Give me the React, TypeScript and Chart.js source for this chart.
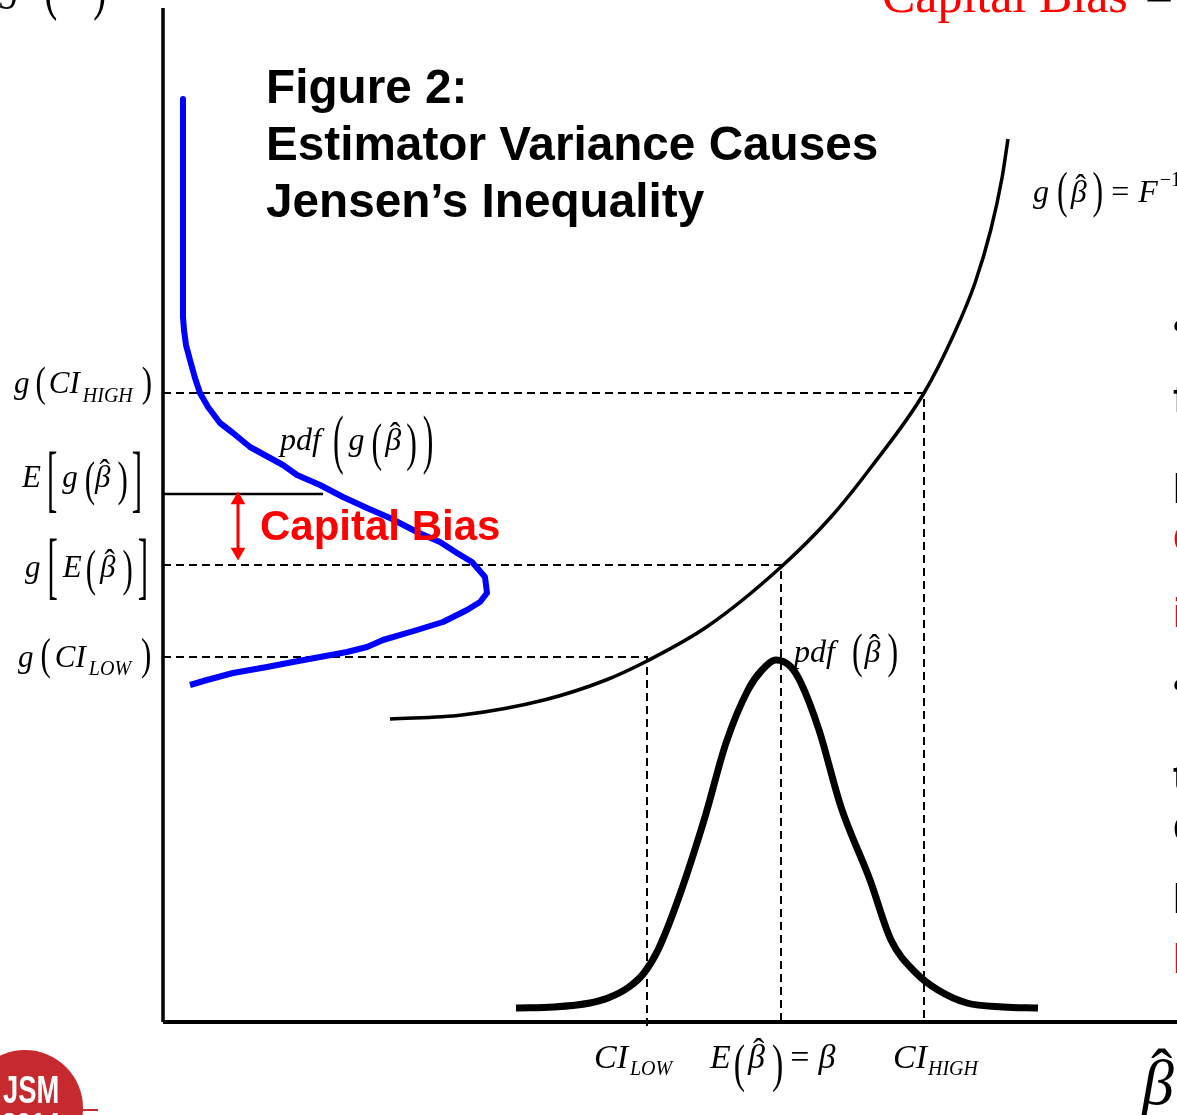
import React, { useEffect, useRef } from 'react';
import { Chart, registerables } from 'chart.js';

Chart.register(...registerables);

// ---- Data (arbitrary units: x = β̂ axis, y = g axis) ----
const X_MAX = 10.14;
const Y_MAX = 10.14;

const CI_LOW = 4.84;
const E_BETA = 6.18;
const CI_HIGH = 7.61;

const G_CI_LOW = 3.65;
const G_E_BETA = 4.57;
const E_G_BETA = 5.28;
const G_CI_HIGH = 6.29;

const E_G_LINE_END = 1.6;
const ARROW_X = 0.75;
const ARROW_TOP = 5.22;
const ARROW_BOTTOM = 4.7;

// g(β̂) convex transform curve
const gCurveX = [2.27, 2.99, 3.81, 4.43, 4.84, 5.45, 6.18, 6.68, 7.09, 7.61, 7.91, 8.12, 8.28, 8.39, 8.45];
const gCurveY = [3.03, 3.07, 3.22, 3.42, 3.61, 3.96, 4.55, 5.05, 5.56, 6.29, 6.88, 7.39, 7.93, 8.44, 8.83];

// pdf(β̂) bell curve
const pdfBetaX = [3.53, 3.91, 4.27, 4.45, 4.66, 4.81, 4.95, 5.16, 5.42, 5.63, 5.85, 5.99, 6.13, 6.28, 6.38, 6.56, 6.78, 7.07, 7.28, 7.53, 7.75, 8.04, 8.4, 8.75];
const pdfBetaY = [0.14, 0.15, 0.19, 0.24, 0.35, 0.49, 0.72, 1.25, 2.05, 2.79, 3.32, 3.52, 3.62, 3.55, 3.39, 2.92, 2.15, 1.42, 0.82, 0.49, 0.32, 0.19, 0.15, 0.14];

// pdf(g(β̂)) drawn sideways along the g axis: density (x) vs g value (y)
const pdfGDensity = [0.2, 0.2, 0.21, 0.23, 0.27, 0.32, 0.37, 0.45, 0.57, 0.7, 0.87, 1.2, 1.34, 1.57, 1.8, 2.04, 2.27, 2.54, 2.77, 2.94, 3.09, 3.22, 3.24, 3.17, 3.04, 2.8, 2.54, 2.2, 2.04, 1.84, 1.57, 1.3, 1.04, 0.7, 0.44, 0.27];
const pdfGValue = [9.23, 7.05, 6.92, 6.77, 6.62, 6.44, 6.29, 6.15, 5.99, 5.89, 5.75, 5.57, 5.47, 5.37, 5.25, 5.14, 5.04, 4.9, 4.8, 4.69, 4.6, 4.45, 4.29, 4.2, 4.12, 4.0, 3.92, 3.82, 3.75, 3.7, 3.65, 3.6, 3.55, 3.49, 3.42, 3.37];

const TITLE_LINES = ['Figure 2:', 'Estimator Variance Causes', 'Jensen\u2019s Inequality'];
const BIAS_LABEL = 'Capital Bias';
const SIDE_FRAGMENTS = [
  { t: '\u2022', c: '#000' },
  { t: 'f', c: '#000' },
  { t: 'l', c: '#000' },
  { t: 'C', c: '#ff0000' },
  { t: 'i', c: '#ff0000' },
  { t: '\u2022', c: '#000' },
  { t: 't', c: '#000' },
  { t: 'C', c: '#000' },
  { t: 'l', c: '#000' },
  { t: 'l', c: '#ff0000' },
];
const SIDE_BASELINES = [340, 412, 503, 553, 627, 699, 790, 843, 913, 973];

const SERIF = '"Liberation Serif", "Times New Roman", serif';
const SANS = '"Liberation Sans", Arial, sans-serif';

type Piece = { s: string; z: number; up?: boolean; dy?: number; gap?: number; h?: number; cy?: number; hat?: boolean };
const P = (s: string, z: number, o: Partial<Piece> = {}): Piece => ({ s, z, ...o });

function drawMath(ctx: CanvasRenderingContext2D, x: number, y: number, pieces: Piece[]) {
  let cx = x;
  ctx.textAlign = 'left';
  for (const p of pieces) {
    cx += p.gap ?? 0;
    ctx.font = `${p.up ? '' : 'italic '}${p.z}px ${SERIF}`;
    const m = ctx.measureText(p.s);
    if (p.h) {
      const asc = m.actualBoundingBoxAscent;
      const desc = m.actualBoundingBoxDescent;
      const k = p.h / (asc + desc);
      ctx.save();
      ctx.translate(cx, y + (p.cy ?? 0));
      ctx.scale(1, k);
      ctx.fillText(p.s, 0, (asc - desc) / 2);
      ctx.restore();
    } else {
      ctx.fillText(p.s, cx, y + (p.dy ?? 0));
      if (p.hat) {
        const top = y + (p.dy ?? 0) - m.actualBoundingBoxAscent;
        ctx.save();
        ctx.font = `${Math.round(p.z * 1.0)}px ${SERIF}`;
        const hm = ctx.measureText('\u02C6');
        ctx.textAlign = 'center';
        ctx.fillText('\u02C6', cx + m.width * 0.62, top - 1 - hm.actualBoundingBoxDescent);
        ctx.restore();
      }
    }
    cx += m.width;
  }
}

const annotations = {
  id: 'annotations',
  afterDatasetsDraw(chart: any) {
    const ctx: CanvasRenderingContext2D = chart.ctx;
    const X = (v: number) => chart.scales.x.getPixelForValue(v);
    const Y = (v: number) => chart.scales.y.getPixelForValue(v);
    ctx.save();
    ctx.textBaseline = 'alphabetic';
    ctx.fillStyle = '#000';

    // Title
    ctx.font = `bold 47.7px ${SANS}`;
    TITLE_LINES.forEach((t, i) => ctx.fillText(t, 266, 103 + i * 57));

    // Capital Bias (red, near arrow)
    ctx.fillStyle = '#ff0000';
    ctx.font = `bold 42px ${SANS}`;
    ctx.fillText(BIAS_LABEL, X(ARROW_X) + 22, Y(E_G_BETA) + 46);

    // Top-right clipped heading
    ctx.font = `50px ${SERIF}`;
    ctx.fillText(BIAS_LABEL, 882, 12);
    ctx.fillStyle = '#000';
    ctx.fillText('=', 1145, 12);

    // Right-edge clipped slide text
    ctx.font = `bold 40px ${SANS}`;
    SIDE_FRAGMENTS.forEach((f, i) => {
      ctx.fillStyle = f.c;
      ctx.fillText(f.t, 1173, SIDE_BASELINES[i]);
    });
    ctx.fillStyle = '#000';

    const bh = (z: number) => P('\u03B2', z, { hat: true });

    // Top-left clipped axis label g(β̂)
    drawMath(ctx, 0, 0, [P('g', 40), P('(', 40, { up: true, h: 60, cy: -8, gap: 24 }), P('\u03B2', 36, { dy: -12, gap: 4 }), P(')', 40, { up: true, h: 60, cy: -8, gap: 14 })]);

    // Left g-axis labels
    drawMath(ctx, 14, Y(G_CI_HIGH), [
      P('g', 31), P('(', 31, { up: true, h: 40, cy: -8, gap: 6 }), P('CI', 31, { gap: 3 }),
      P('HIGH', 20, { dy: 9, gap: 3 }), P(')', 31, { up: true, h: 40, cy: -8, gap: 9 }),
    ]);
    drawMath(ctx, 22, Y(E_G_BETA) - 7, [
      P('E', 31), P('[', 31, { up: true, h: 64, cy: -7, gap: 6 }), P('g', 31, { gap: 5 }),
      P('(', 31, { up: true, h: 48, cy: -5, gap: 7 }), bh(31), P(')', 31, { up: true, h: 48, cy: -5, gap: 7 }),
      P(']', 31, { up: true, h: 64, cy: -7, gap: 4 }),
    ]);
    drawMath(ctx, 25, Y(G_E_BETA) + 12, [
      P('g', 31), P('[', 31, { up: true, h: 65, cy: -10, gap: 7 }), P('E', 31, { gap: 5 }),
      P('(', 31, { up: true, h: 50, cy: -5, gap: 4 }), { ...bh(31), gap: 4 }, P(')', 31, { up: true, h: 50, cy: -5, gap: 7 }),
      P(']', 31, { up: true, h: 65, cy: -10, gap: 5 }),
    ]);
    drawMath(ctx, 18, Y(G_CI_LOW) + 10, [
      P('g', 31), P('(', 31, { up: true, h: 43, cy: -9, gap: 7 }), P('CI', 31, { gap: 4 }),
      P('LOW', 20, { dy: 8, gap: 3 }), P(')', 31, { up: true, h: 43, cy: -9, gap: 10 }),
    ]);

    // pdf(g(β̂)) label
    drawMath(ctx, 280, 450, [
      P('pdf', 32), P('(', 32, { up: true, h: 62, cy: -6, gap: 12 }), P('g', 32, { gap: 5 }),
      P('(', 32, { up: true, h: 49, cy: -3, gap: 7 }), { ...bh(32), gap: 3 }, P(')', 32, { up: true, h: 49, cy: -3, gap: 5 }),
      P(')', 32, { up: true, h: 62, cy: -6, gap: 6 }),
    ]);

    // pdf(β̂) label
    drawMath(ctx, 794, 662, [
      P('pdf', 32), P('(', 32, { up: true, h: 46, cy: -7, gap: 17 }), { ...bh(32), gap: 2 },
      P(')', 32, { up: true, h: 46, cy: -7, gap: 7 }),
    ]);

    // g(β̂) = F^-1 label
    drawMath(ctx, 1033, 202, [
      P('g', 32), P('(', 32, { up: true, h: 48, cy: -8, gap: 8 }), { ...bh(32), gap: 3 },
      P(')', 32, { up: true, h: 48, cy: -8, gap: 6 }), P('=', 32, { up: true, gap: 8 }),
      P('F', 32, { gap: 9 }), P('\u22121', 20, { up: true, dy: -16, gap: 2 }),
    ]);

    // x-axis labels
    const xb = Y(0) + 46;
    drawMath(ctx, X(CI_LOW) - 53, xb, [P('CI', 34), P('LOW', 20, { dy: 7, gap: 2 })]);
    drawMath(ctx, X(E_BETA) - 71, xb, [
      P('E', 34), P('(', 34, { up: true, h: 50, cy: 0, gap: 3 }), { ...bh(34), gap: 3 },
      P(')', 34, { up: true, h: 50, cy: 0, gap: 7 }), P('=', 34, { up: true, gap: 7 }), P('\u03B2', 34, { gap: 9 }),
    ]);
    drawMath(ctx, X(CI_HIGH) - 31, xb, [P('CI', 34), P('HIGH', 20, { dy: 7, gap: 1 })]);

    // axis title β̂
    drawMath(ctx, 1142, 1104, [bh(64)]);

    // JSM logo (clipped, bottom-left)
    ctx.fillStyle = '#c62a2f';
    ctx.beginPath();
    ctx.arc(25, 1108, 58, 0, Math.PI * 2);
    ctx.fill();
    ctx.strokeStyle = '#c62a2f';
    ctx.lineWidth = 2;
    ctx.beginPath();
    ctx.moveTo(78, 1110);
    ctx.lineTo(98, 1110);
    ctx.stroke();
    ctx.fillStyle = '#fff';
    ctx.save();
    ctx.translate(3, 1103);
    ctx.scale(0.72, 1);
    ctx.font = `bold 38px ${SANS}`;
    ctx.fillText('JSM', 0, 0);
    ctx.restore();
    ctx.font = `bold 26px ${SANS}`;
    ctx.fillText('2014', 2, 1131);

    ctx.restore();
  },
};

const pts = (xs: number[], ys: number[]) => xs.map((x, i) => ({ x, y: ys[i] }));

const seg = (data: { x: number; y: number }[], color: string, width: number, extra: any = {}) => ({
  data,
  showLine: true,
  borderColor: color,
  backgroundColor: color,
  borderWidth: width,
  pointRadius: 0,
  pointHoverRadius: 0,
  clip: false,
  tension: 0,
  ...extra,
});

export default function App() {
  const ref = useRef<HTMLCanvasElement>(null);
  useEffect(() => {
    const dash = { borderDash: [8, 5], order: 5 };
    const datasets: any[] = [
      seg([{ x: 0, y: G_CI_HIGH }, { x: CI_HIGH, y: G_CI_HIGH }, { x: CI_HIGH, y: 0 }], '#000', 2, dash),
      seg([{ x: 0, y: G_E_BETA }, { x: E_BETA, y: G_E_BETA }, { x: E_BETA, y: 0 }], '#000', 2, dash),
      seg([{ x: 0, y: G_CI_LOW }, { x: CI_LOW, y: G_CI_LOW }, { x: CI_LOW, y: -0.07 }], '#000', 2, dash),
      seg([{ x: 0, y: E_G_BETA }, { x: E_G_LINE_END, y: E_G_BETA }], '#000', 2.5, { order: 4 }),
      seg(pts(gCurveX, gCurveY), '#000', 3.5, { cubicInterpolationMode: 'monotone', order: 3 }),
      seg(pts(pdfBetaX, pdfBetaY), '#000', 7, { cubicInterpolationMode: 'monotone', borderJoinStyle: 'round', order: 2 }),
      seg(pts(pdfGDensity, pdfGValue), '#0000ff', 6, { borderJoinStyle: 'round', order: 2 }),
      seg([{ x: ARROW_X, y: ARROW_TOP }, { x: ARROW_X, y: ARROW_BOTTOM }], '#ff0000', 3, {
        pointRadius: 8.5, pointStyle: 'triangle', pointRotation: [0, 180], pointBorderWidth: 0,
        pointBackgroundColor: '#ff0000', order: 1,
      }),
      seg([{ x: 0, y: 0 }, { x: 0, y: Y_MAX }], '#000', 3.5, { order: 0 }),
      seg([{ x: 0, y: 0 }, { x: X_MAX, y: 0 }], '#000', 4, { order: 0 }),
    ];
    const chart = new Chart(ref.current as HTMLCanvasElement, {
      type: 'scatter',
      data: { datasets },
      options: {
        responsive: false,
        animation: false,
        devicePixelRatio: 1,
        events: [],
        layout: { autoPadding: false, padding: { left: 163, top: 8, right: 0, bottom: 93 } },
        scales: {
          x: { type: 'linear', min: 0, max: X_MAX, display: false },
          y: { type: 'linear', min: 0, max: Y_MAX, display: false },
        },
        plugins: { legend: { display: false }, tooltip: { enabled: false } },
      },
      plugins: [annotations],
    } as any);
    return () => chart.destroy();
  }, []);
  return (
    <div style={{ position: 'absolute', left: 0, top: 0, width: 1177, height: 1115, background: '#fff', overflow: 'hidden' }}>
      <canvas ref={ref} width={1177} height={1115} style={{ display: 'block' }} />
    </div>
  );
}
